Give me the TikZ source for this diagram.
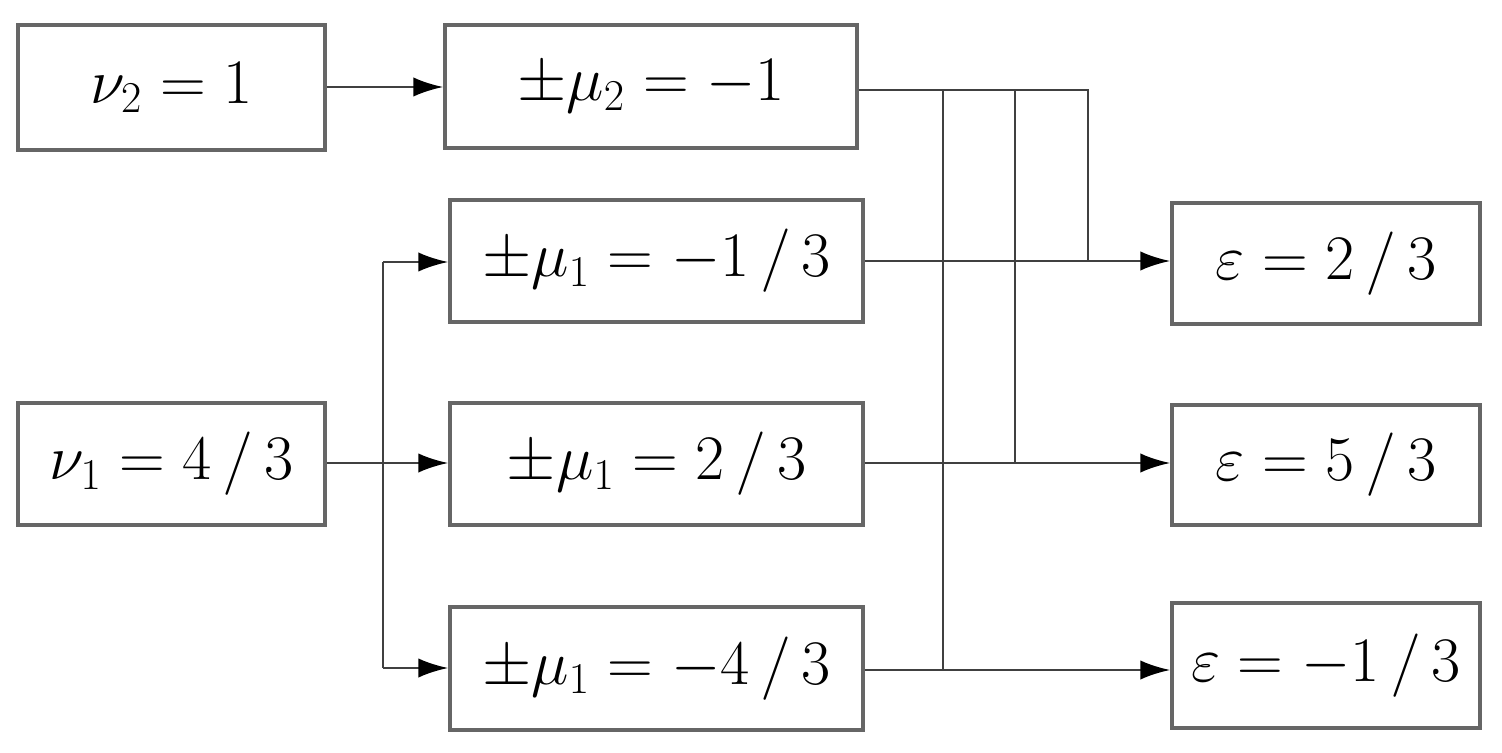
\documentclass[tikz,border=0pt]{standalone}
\usetikzlibrary{arrows.meta}
\begin{document}
\begin{tikzpicture}[x=0.02cm,y=-0.02cm,
 box/.style={draw=black!60,line width=2pt,inner sep=0pt,font=\fontsize{24}{28}\selectfont},
 ln/.style={draw=black!75,line width=1.5pt},
 arr/.style={ln,-{Latex[length=17pt,width=11pt,black]}}]
\useasboundingbox (0,0) rectangle (1502,753);
\newcommand\bx[6]{\node[box,minimum width={(#3-#2)*0.02cm},minimum height={(#5-#4)*0.02cm}] (#1) at ({(#2+#3)/2},{(#4+#5)/2}) {\scalebox{1.45}{#6}};}
\bx{v2}{18}{325}{25}{150}{$\nu_2=1$}
\bx{m2}{445}{857}{25}{148}{$\pm\mu_2=-1$}
\bx{ma}{450}{863}{200}{322}{$\pm\mu_1=-1\,/\,3$}
\bx{v1}{18}{325}{403}{525}{$\nu_1=4\,/\,3$}
\bx{mb}{450}{863}{403}{525}{$\pm\mu_1=2\,/\,3$}
\bx{mc}{450}{863}{607}{730}{$\pm\mu_1=-4\,/\,3$}
\bx{ea}{1172}{1480}{203}{324}{$\varepsilon=2\,/\,3$}
\bx{eb}{1172}{1480}{405}{525}{$\varepsilon=5\,/\,3$}
\bx{ec}{1172}{1480}{603}{728}{$\varepsilon=-1\,/\,3$}
\coordinate (j1) at (383,463);
\coordinate (ja) at (383,262);
\coordinate (jc) at (383,668);
\coordinate (t1) at (943,90);
\coordinate (t2) at (1015,90);
\coordinate (t3) at (1088,90);
\coordinate (b1) at (943,670);
\coordinate (b2) at (1015,463);
\coordinate (b3) at (1088,261);
\draw[arr] (v2.east|-0,87) -- (m2.west|-0,87);
\draw[ln] (v1.east|-j1) -- (j1);
\draw[arr] (j1) -- (mb.west|-j1);
\draw[ln] (ja) -- (jc);
\draw[arr] (ja) -- (ma.west|-ja);
\draw[arr] (jc) -- (mc.west|-jc);
\draw[ln] (m2.east|-t1) -- (t3) -- (b3);
\draw[ln] (t1) -- (b1);
\draw[ln] (t2) -- (b2);
\draw[arr] (ma.east|-b3) -- (ea.west|-b3);
\draw[arr] (mb.east|-b2) -- (eb.west|-b2);
\draw[arr] (mc.east|-b1) -- (ec.west|-b1);
\end{tikzpicture}
\end{document}
